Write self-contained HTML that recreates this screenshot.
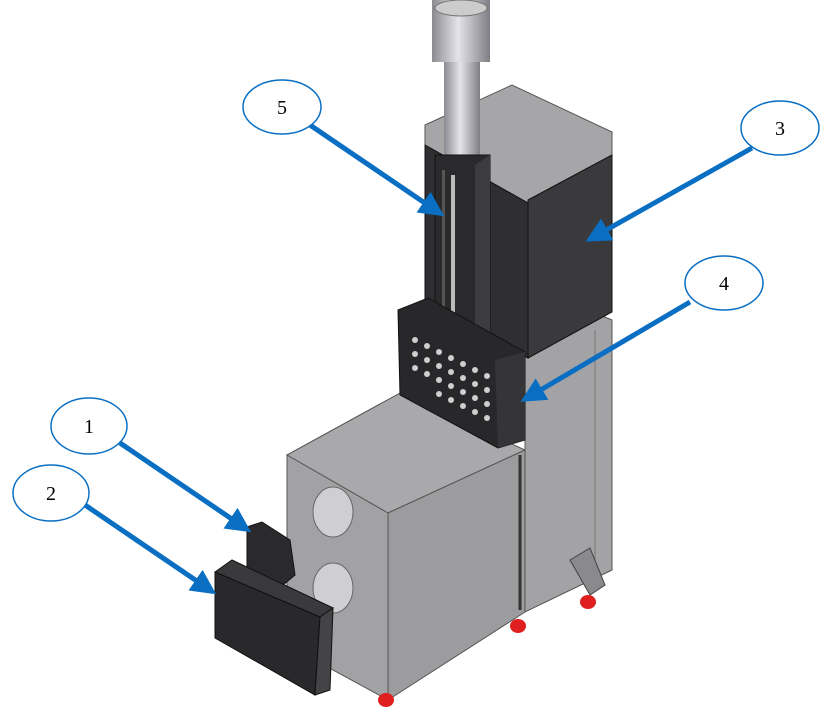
<!DOCTYPE html><html><head><style>body{margin:0;background:#fff}svg{display:block}</style></head><body>
<svg width="823" height="723" viewBox="0 0 823 723" xmlns="http://www.w3.org/2000/svg" font-family="Liberation Serif, serif">
<defs>
<linearGradient id="pipe" x1="0" x2="1"><stop offset="0" stop-color="#8a8a90"/><stop offset=".45" stop-color="#e4e4ea"/><stop offset="1" stop-color="#7d7d84"/></linearGradient>
<marker id="ah" markerWidth="5" markerHeight="5" refX="3.5" refY="2.5" orient="auto" markerUnits="strokeWidth"><path d="M0,0 L5,2.5 L0,5 z" fill="#0a6fc2"/></marker>
</defs>
<polygon points="525,355 600,315 612,320 612,570 525,612" fill="#a3a3a6" stroke="#555" stroke-width="1"/>
<line x1="595" y1="330" x2="595" y2="570" stroke="#777"/>
<polygon points="287,455 400,393 525,450 388,513" fill="#a9a9ab" stroke="#555"/>
<polygon points="287,455 388,513 388,700 287,645" fill="#a2a2a5" stroke="#555"/>
<polygon points="388,513 525,450 525,612 388,700" fill="#9c9c9f" stroke="#555"/>
<ellipse cx="333" cy="512" rx="20" ry="25" fill="#cfcfd2" stroke="#666"/>
<ellipse cx="333" cy="588" rx="20" ry="25" fill="#cfcfd2" stroke="#666"/>
<line x1="520" y1="455" x2="520" y2="610" stroke="#333" stroke-width="3"/>
<polygon points="570,560 590,548 605,585 590,595" fill="#8a8a8d" stroke="#444"/>
<ellipse cx="386" cy="700" rx="8" ry="7" fill="#e02020"/>
<ellipse cx="518" cy="626" rx="8" ry="7" fill="#e02020"/>
<ellipse cx="588" cy="602" rx="8" ry="7" fill="#e02020"/>
<polygon points="425,125 512,85 612,132 612,158 528,203 425,145" fill="#a6a6a8" stroke="#555"/>
<polygon points="425,145 528,203 528,358 425,300" fill="#2f2f32" stroke="#111"/>
<polygon points="528,200 612,155 612,312 528,358" fill="#3a3a3d" stroke="#111"/>
<rect x="432" y="0" width="58" height="62" fill="url(#pipe)"/>
<ellipse cx="461" cy="8" rx="26" ry="8" fill="#ccc" stroke="#777"/>
<rect x="444" y="62" width="36" height="100" fill="url(#pipe)"/>
<polygon points="435,155 490,155 490,350 435,340" fill="#2a2a2d" stroke="#111"/>
<polygon points="475,165 490,155 490,350 475,355" fill="#3c3c40"/>
<rect x="451" y="175" width="4" height="165" fill="#bbb"/>
<rect x="442" y="170" width="3" height="160" fill="#555"/>
<polygon points="398,310 428,298 525,352 525,440 498,448 400,395" fill="#28282b" stroke="#111"/>
<polygon points="495,360 525,352 525,440 498,448" fill="#353538"/>
<g fill="#cfcfcf">
<circle cx="415" cy="340" r="3"/><circle cx="427" cy="346" r="3"/><circle cx="439" cy="352" r="3"/><circle cx="451" cy="358" r="3"/><circle cx="463" cy="364" r="3"/><circle cx="475" cy="370" r="3"/><circle cx="487" cy="376" r="3"/>
<circle cx="415" cy="354" r="3"/><circle cx="427" cy="360" r="3"/><circle cx="439" cy="366" r="3"/><circle cx="451" cy="372" r="3"/><circle cx="463" cy="378" r="3"/><circle cx="475" cy="384" r="3"/><circle cx="487" cy="390" r="3"/>
<circle cx="415" cy="368" r="3"/><circle cx="427" cy="374" r="3"/><circle cx="439" cy="380" r="3"/><circle cx="451" cy="386" r="3"/><circle cx="463" cy="392" r="3"/><circle cx="475" cy="398" r="3"/><circle cx="487" cy="404" r="3"/>
<circle cx="439" cy="394" r="3"/><circle cx="451" cy="400" r="3"/><circle cx="463" cy="406" r="3"/><circle cx="475" cy="412" r="3"/><circle cx="487" cy="418" r="3"/>
</g>
<polygon points="247,527 262,522 290,540 295,575 283,585 247,570" fill="#2a2a2d" stroke="#111"/>
<!-- filter 2 -->
<polygon points="215,572 232,560 333,608 320,617" fill="#3a3a3d" stroke="#111"/>
<polygon points="215,572 320,617 315,695 215,638" fill="#29292c" stroke="#111"/>
<polygon points="320,617 333,608 330,690 315,695" fill="#444447" stroke="#111"/>
<g stroke="#0a6fc2" stroke-width="5" marker-end="url(#ah)">
<line x1="310" y1="125" x2="438" y2="212"/>
<line x1="752" y1="148" x2="592" y2="238"/>
<line x1="690" y1="302" x2="527" y2="398"/>
<line x1="120" y1="443" x2="245" y2="528"/>
<line x1="85" y1="505" x2="210" y2="590"/>
</g>
<g fill="#fff" stroke="#0a6fc2" stroke-width="1.5">
<ellipse cx="282" cy="107" rx="39" ry="27"/>
<ellipse cx="780" cy="128" rx="39" ry="27"/>
<ellipse cx="724" cy="283" rx="39" ry="27"/>
<ellipse cx="89" cy="426" rx="38" ry="28"/>
<ellipse cx="51" cy="493" rx="38" ry="28"/>
</g>
<g font-size="20" text-anchor="middle" fill="#000">
<text x="282" y="114">5</text><text x="780" y="135">3</text><text x="724" y="290">4</text><text x="89" y="433">1</text><text x="51" y="500">2</text>
</g>
</svg></body></html>
